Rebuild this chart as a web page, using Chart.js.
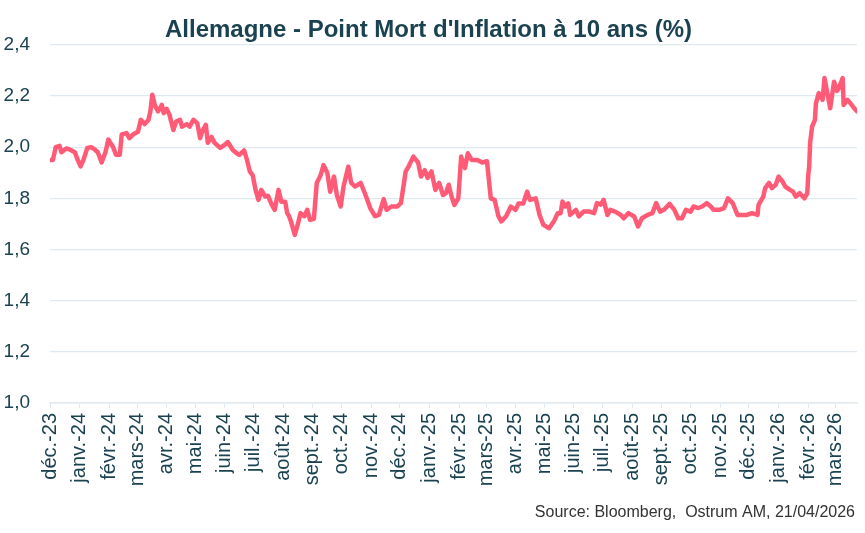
<!DOCTYPE html>
<html>
<head>
    <title>Allemagne - Point Mort d'Inflation</title>
    <script src="https://cdn.jsdelivr.net/npm/chart.js"></script>
    <style>
        body { margin: 0; background: #fff; }
    </style>
</head>
<body>
    <canvas id="breakevenChart" width="865" height="533"></canvas>
    <script>
        const dates = [
            '2023-12-01', '2023-12-04', '2023-12-07', '2023-12-11', '2023-12-13', '2023-12-18', '2023-12-22', '2023-12-27', '2023-12-30',
            '2024-01-02', '2024-01-05', '2024-01-09', '2024-01-13', '2024-01-17', '2024-01-20', '2024-01-24', '2024-01-28', '2024-01-31',
            '2024-02-05', '2024-02-08', '2024-02-12', '2024-02-14', '2024-02-19', '2024-02-22', '2024-02-26',
            '2024-03-02', '2024-03-05', '2024-03-09', '2024-03-13', '2024-03-15', '2024-03-17', '2024-03-20', '2024-03-23', '2024-03-27', '2024-03-29',
            '2024-04-01', '2024-04-04', '2024-04-08', '2024-04-11', '2024-04-15', '2024-04-17', '2024-04-22', '2024-04-25', '2024-04-29',
            '2024-05-03', '2024-05-06', '2024-05-08', '2024-05-12', '2024-05-14', '2024-05-18', '2024-05-21', '2024-05-27',
            '2024-06-01', '2024-06-04', '2024-06-09', '2024-06-13', '2024-06-16', '2024-06-21', '2024-06-24', '2024-06-27', '2024-06-30',
            '2024-07-03', '2024-07-06', '2024-07-09', '2024-07-13', '2024-07-16', '2024-07-20', '2024-07-23', '2024-07-27', '2024-07-30',
            '2024-08-03', '2024-08-05', '2024-08-07', '2024-08-09', '2024-08-13', '2024-08-16', '2024-08-19', '2024-08-23', '2024-08-26', '2024-08-29',
            '2024-09-02', '2024-09-05', '2024-09-09', '2024-09-12', '2024-09-16', '2024-09-19', '2024-09-23', '2024-09-26', '2024-09-30',
            '2024-10-03', '2024-10-08', '2024-10-11', '2024-10-15', '2024-10-21', '2024-10-26', '2024-10-31',
            '2024-11-05', '2024-11-09', '2024-11-14', '2024-11-17', '2024-11-22', '2024-11-28',
            '2024-12-02', '2024-12-07', '2024-12-10', '2024-12-15', '2024-12-20', '2024-12-23', '2024-12-27', '2024-12-30',
            '2025-01-03', '2025-01-07', '2025-01-11', '2025-01-15', '2025-01-18', '2025-01-21', '2025-01-24', '2025-01-27', '2025-01-31',
            '2025-02-03', '2025-02-07', '2025-02-10', '2025-02-14', '2025-02-20', '2025-02-25',
            '2025-03-02', '2025-03-06', '2025-03-10', '2025-03-14', '2025-03-17', '2025-03-22', '2025-03-27',
            '2025-04-01', '2025-04-04', '2025-04-09', '2025-04-13', '2025-04-16', '2025-04-22', '2025-04-26', '2025-04-30',
            '2025-05-06', '2025-05-11', '2025-05-15', '2025-05-18', '2025-05-20', '2025-05-23', '2025-05-26', '2025-05-28',
            '2025-06-03', '2025-06-06', '2025-06-11', '2025-06-17', '2025-06-22', '2025-06-25', '2025-06-29',
            '2025-07-02', '2025-07-06', '2025-07-09', '2025-07-14', '2025-07-20', '2025-07-23', '2025-07-28',
            '2025-08-03', '2025-08-07', '2025-08-11', '2025-08-17', '2025-08-22', '2025-08-26', '2025-08-30',
            '2025-09-03', '2025-09-09', '2025-09-14', '2025-09-18', '2025-09-22', '2025-09-26',
            '2025-10-01', '2025-10-04', '2025-10-09', '2025-10-13', '2025-10-18', '2025-10-22', '2025-10-25', '2025-10-31',
            '2025-11-05', '2025-11-09', '2025-11-14', '2025-11-19', '2025-11-24', '2025-11-29',
            '2025-12-04', '2025-12-10', '2025-12-11', '2025-12-16', '2025-12-18', '2025-12-22', '2025-12-25', '2025-12-29',
            '2026-01-01', '2026-01-05', '2026-01-08', '2026-01-13', '2026-01-16', '2026-01-19', '2026-01-23', '2026-01-28', '2026-01-31',
            '2026-02-01', '2026-02-02', '2026-02-03', '2026-02-05', '2026-02-08', '2026-02-09', '2026-02-12', '2026-02-16', '2026-02-18', '2026-02-21', '2026-02-24', '2026-02-28',
            '2026-03-03', '2026-03-05', '2026-03-09', '2026-03-10', '2026-03-14', '2026-03-17', '2026-03-21', '2026-03-24'
        ];
        const values = [
            1.95, 1.95, 2.00, 2.005, 1.98, 1.995, 1.99, 1.98, 1.95,
            1.925, 1.95, 1.997, 2.00, 1.99, 1.98, 1.94, 1.98, 2.03,
            2.00, 1.97, 1.97, 2.05, 2.055, 2.035, 2.05,
            2.06, 2.107, 2.09, 2.107, 2.14, 2.205, 2.16, 2.14, 2.165, 2.133,
            2.15, 2.126, 2.067, 2.10, 2.107, 2.08, 2.09, 2.08, 2.107,
            2.094, 2.035, 2.06, 2.087, 2.017, 2.04, 2.017, 1.997,
            2.01, 2.02, 1.99, 1.977, 1.97, 1.987, 1.95, 1.905, 1.89,
            1.833, 1.794, 1.833, 1.807, 1.81, 1.774, 1.755, 1.833, 1.787,
            1.787, 1.743, 1.73, 1.71, 1.657, 1.696, 1.742, 1.73, 1.755, 1.716,
            1.72, 1.86, 1.89, 1.93, 1.90, 1.826, 1.885, 1.813, 1.768,
            1.846, 1.924, 1.86, 1.846, 1.86, 1.813, 1.761,
            1.73, 1.735, 1.797, 1.755, 1.768, 1.768,
            1.781, 1.905, 1.924, 1.963, 1.94, 1.885, 1.91, 1.88,
            1.905, 1.833, 1.86, 1.813, 1.82, 1.853, 1.807, 1.774, 1.80,
            1.963, 1.918, 1.976, 1.95, 1.95, 1.94,
            1.945, 1.80, 1.794, 1.73, 1.71, 1.73, 1.768,
            1.755, 1.78, 1.78, 1.826, 1.794, 1.80, 1.735, 1.696,
            1.683, 1.71, 1.742, 1.742, 1.787, 1.768, 1.78, 1.735,
            1.755, 1.729, 1.748, 1.748, 1.742, 1.781, 1.775,
            1.794, 1.735, 1.755, 1.748, 1.735, 1.722, 1.742,
            1.729, 1.69, 1.722, 1.735, 1.742, 1.781, 1.748,
            1.755, 1.778, 1.755, 1.722, 1.722, 1.755,
            1.748, 1.768, 1.762, 1.768, 1.781, 1.768, 1.755, 1.755,
            1.762, 1.80, 1.781, 1.735, 1.735, 1.735,
            1.742, 1.735, 1.774, 1.807, 1.84, 1.86, 1.84, 1.853,
            1.885, 1.866, 1.846, 1.833, 1.826, 1.807, 1.82, 1.80, 1.82,
            1.89, 1.924, 2.017, 2.08, 2.107, 2.17, 2.211, 2.185, 2.27, 2.211, 2.152, 2.256,
            2.22, 2.23, 2.27, 2.165, 2.185, 2.172, 2.152, 2.14
        ];

        // month ticks on the x axis
        const tickDates = [
            '2023-12-01', '2024-01-01', '2024-02-01', '2024-03-01', '2024-04-01', '2024-05-01', '2024-06-01',
            '2024-07-01', '2024-08-01', '2024-09-01', '2024-10-01', '2024-11-01', '2024-12-01', '2025-01-01',
            '2025-02-01', '2025-03-01', '2025-04-01', '2025-05-01', '2025-06-01', '2025-07-01', '2025-08-01',
            '2025-09-01', '2025-10-01', '2025-11-01', '2025-12-01', '2026-01-01', '2026-02-01', '2026-03-01'
        ];
        const tickLabels = [
            'déc.-23', 'janv.-24', 'févr.-24', 'mars-24', 'avr.-24', 'mai-24', 'juin-24',
            'juil.-24', 'août-24', 'sept.-24', 'oct.-24', 'nov.-24', 'déc.-24', 'janv.-25',
            'févr.-25', 'mars-25', 'avr.-25', 'mai-25', 'juin-25', 'juil.-25', 'août-25',
            'sept.-25', 'oct.-25', 'nov.-25', 'déc.-25', 'janv.-26', 'févr.-26', 'mars-26'
        ];
        const lastDay = '2026-03-24';

        const dayZero = Date.parse('2023-12-01');
        const toDay = s => (Date.parse(s) - dayZero) / 86400000;

        const points = dates.map((d, i) => ({ x: toDay(d), y: values[i] }));
        const tickDays = tickDates.map(toDay);

        const textColor = '#1b4250';
        const gridColor = '#dfe9ef';

        const sourceNote = {
            id: 'sourceNote',
            afterDraw(chart) {
                const c = chart.ctx;
                c.save();
                c.font = '16px "Liberation Sans", Arial, sans-serif';
                c.fillStyle = '#333333';
                c.textAlign = 'right';
                c.textBaseline = 'alphabetic';
                c.fillText('Source: Bloomberg,  Ostrum AM, 21/04/2026', 855, 517);
                c.restore();
            }
        };

        new Chart(document.getElementById('breakevenChart').getContext('2d'), {
            type: 'line',
            data: {
                datasets: [{
                    label: "Point Mort d'Inflation 10 ans",
                    data: points,
                    borderColor: '#ff5b77',
                    borderWidth: 4.5,
                    pointRadius: 0,
                    tension: 0,
                    borderJoinStyle: 'round',
                    borderCapStyle: 'round'
                }]
            },
            options: {
                responsive: false,
                animation: false,
                layout: { padding: { left: 0, right: 8, top: 0, bottom: 0 } },
                plugins: {
                    legend: { display: false },
                    tooltip: { enabled: false },
                    title: {
                        display: true,
                        text: "Allemagne - Point Mort d'Inflation à 10 ans (%)",
                        color: textColor,
                        font: { family: '"Liberation Sans Narrow", "Liberation Sans", Arial, sans-serif', size: 24, weight: 'bold' },
                        padding: { top: 16, bottom: 0 }
                    }
                },
                scales: {
                    x: {
                        type: 'linear',
                        min: 0,
                        max: toDay(lastDay),
                        afterBuildTicks: scale => {
                            scale.ticks = tickDays.map(v => ({ value: v }));
                        },
                        afterFit: scale => { scale.height = 130; },
                        ticks: {
                            autoSkip: false,
                            minRotation: 90,
                            maxRotation: 90,
                            padding: 5,
                            color: textColor,
                            font: { family: '"Liberation Sans", Arial, sans-serif', size: 20 },
                            callback: (v, i) => tickLabels[i]
                        },
                        grid: {
                            drawOnChartArea: false,
                            drawTicks: true,
                            tickLength: 5,
                            color: gridColor
                        },
                        border: { color: gridColor, width: 1.5 }
                    },
                    y: {
                        min: 1.0,
                        max: 2.4,
                        afterFit: scale => { scale.width = 50; },
                        ticks: {
                            stepSize: 0.2,
                            padding: 20,
                            color: textColor,
                            font: { family: '"Liberation Sans", Arial, sans-serif', size: 19 },
                            callback: v => v.toFixed(1).replace('.', ',')
                        },
                        grid: {
                            drawTicks: false,
                            color: gridColor,
                            lineWidth: 1.2
                        },
                        border: { display: false }
                    }
                }
            },
            plugins: [sourceNote]
        });
    </script>
</body>
</html>
